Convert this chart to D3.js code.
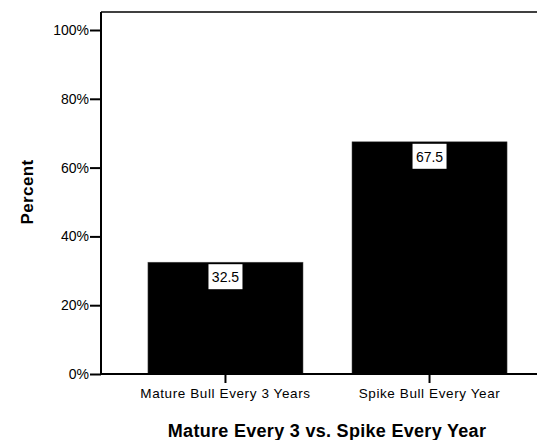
<!DOCTYPE html>
<html>
<head>
<meta charset="utf-8">
<script src="https://cdn.jsdelivr.net/npm/d3@7"></script>
<style>
  body { margin: 0; background: #fff; }
  text { font-family: "Liberation Sans", Arial, sans-serif; fill: #000; }
</style>
</head>
<body>
<div id="chart"></div>
<script>
// Data
let categories = ["Mature Bull Every 3 Years", "Spike Bull Every Year"];
let percents = [32.5, 67.5];
let yTicks = [0, 20, 40, 60, 80, 100];

let width = 537, height = 440;

let svg = d3.select("#chart").append("svg")
  .attr("width", width).attr("height", height);

// Scales
let x = d3.scaleBand().domain(categories).range([101, 554])
  .paddingInner(0.24).paddingOuter(0.23);
let y = d3.scaleLinear().domain([0, 100]).range([374, 30]);

// Frame top
svg.append("line")
  .attr("x1", 101).attr("x2", width)
  .attr("y1", 12).attr("y2", 12)
  .style("stroke", "#000").style("stroke-width", 1.5);

// Bars
svg.selectAll(".bar")
  .data(percents)
  .enter().append("rect")
  .attr("class", "bar")
  .attr("x", (d, i) => x(categories[i]))
  .attr("width", x.bandwidth())
  .attr("y", d => y(d))
  .attr("height", d => y(0) - y(d))
  .style("fill", "#000")
  .style("stroke", "#555")
  .style("stroke-width", 0.5);

// Value labels in white boxes
let labels = svg.selectAll(".vlabel")
  .data(percents)
  .enter().append("g")
  .attr("class", "vlabel")
  .attr("transform", (d, i) => `translate(${x(categories[i]) + x.bandwidth() / 2},${y(d) + 2})`);

labels.append("rect")
  .attr("x", -17).attr("y", 0)
  .attr("width", 34).attr("height", 25)
  .style("fill", "#fff");

labels.append("text")
  .attr("y", 18)
  .attr("text-anchor", "middle")
  .style("font-size", "14px")
  .text(d => d.toFixed(1));

// Y axis
let yAxis = svg.append("g")
  .attr("transform", "translate(101,0)")
  .call(d3.axisLeft(y).tickValues(yTicks).tickFormat(d => d + "%").tickSize(11).tickSizeOuter(0));
yAxis.select(".domain").attr("d", `M0,${y(0)}V12`).style("stroke-width", 2);
yAxis.selectAll(".tick line").style("stroke-width", 2);
yAxis.selectAll(".tick text")
  .attr("x", -12)
  .style("font-size", "14px")
  .style("font-family", "Liberation Sans, Arial, sans-serif");

// X axis
let xAxis = svg.append("g")
  .attr("transform", `translate(0,${y(0)})`)
  .call(d3.axisBottom(x).tickSize(9).tickSizeOuter(0));
xAxis.select(".domain").attr("d", `M101,0H${width}`).style("stroke-width", 2);
xAxis.selectAll(".tick line").style("stroke-width", 2);
xAxis.selectAll(".tick text")
  .attr("y", 14)
  .style("font-size", "13.5px")
  .style("letter-spacing", "0.6px")
  .style("font-family", "Liberation Sans, Arial, sans-serif");

// Axis titles
svg.append("text")
  .attr("x", 327).attr("y", 437)
  .attr("text-anchor", "middle")
  .style("font-size", "18px")
  .style("letter-spacing", "0.3px")
  .style("font-weight", "bold")
  .text("Mature Every 3 vs. Spike Every Year");

svg.append("text")
  .attr("transform", "translate(33,192) rotate(-90)")
  .attr("text-anchor", "middle")
  .style("font-size", "17px")
  .style("letter-spacing", "0.4px")
  .style("font-weight", "bold")
  .text("Percent");
</script>
</body>
</html>
